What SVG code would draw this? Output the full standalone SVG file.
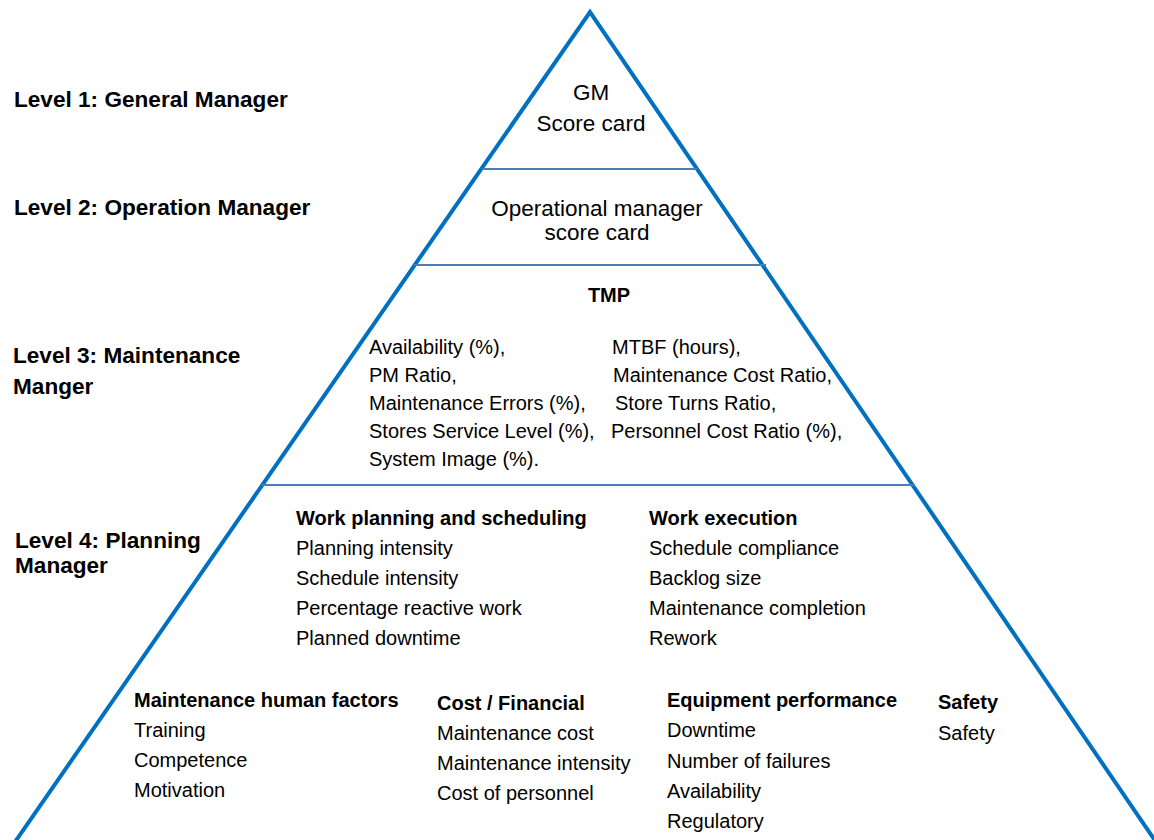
<svg xmlns="http://www.w3.org/2000/svg" width="1154" height="840" viewBox="0 0 1154 840">
<style>
text{font-family:"Liberation Sans",Arial,sans-serif;fill:#000}
.lvl{font-size:22.6px;font-weight:bold}
.t{font-size:20px}
.b{font-size:20px;font-weight:bold}
.big{font-size:22.5px;text-anchor:middle}
.tri{fill:none;stroke:#0070c0;stroke-width:4;stroke-linejoin:miter}
.sep{stroke:#4a7ebb;stroke-width:2}
</style>
<rect width="1154" height="840" fill="#fff"/>
<g id="connectors">
<polyline class="tri" points="15,842 590,12 1156,842"/>
<line class="sep" x1="482" y1="169" x2="697" y2="169"/>
<line class="sep" x1="414" y1="265" x2="766" y2="265"/>
<line class="sep" x1="262" y1="485" x2="915" y2="485"/>
</g>
<g id="labels">
<text class="lvl" x="14" y="107">Level 1: General Manager</text>
<text class="lvl" x="14" y="215">Level 2: Operation Manager</text>
<text class="lvl" x="13" y="363">Level 3: Maintenance</text>
<text class="lvl" x="13" y="394">Manger</text>
<text class="lvl" x="15" y="548">Level 4: Planning</text>
<text class="lvl" x="15" y="573">Manager</text>
</g>
<g id="level1">
<text class="big" x="591" y="100">GM</text>
<text class="big" x="591" y="131">Score card</text>
</g>
<g id="level2">
<text class="big" x="597" y="216">Operational manager</text>
<text class="big" x="597" y="240">score card</text>
</g>
<g id="level3">
<text class="b" x="609" y="302" text-anchor="middle">TMP</text>
<text class="t" x="369" y="354">Availability (%),</text>
<text class="t" x="369" y="382">PM Ratio,</text>
<text class="t" x="369" y="410">Maintenance Errors (%),</text>
<text class="t" x="369" y="438">Stores Service Level (%),</text>
<text class="t" x="369" y="466">System Image (%).</text>
<text class="t" x="612" y="354">MTBF (hours),</text>
<text class="t" x="613" y="382">Maintenance Cost Ratio,</text>
<text class="t" x="615" y="410">Store Turns Ratio,</text>
<text class="t" x="611" y="438">Personnel Cost Ratio (%),</text>
</g>
<g id="level4-planning">
<text class="b" x="296" y="525">Work planning and scheduling</text>
<text class="t" x="296" y="555">Planning intensity</text>
<text class="t" x="296" y="585">Schedule intensity</text>
<text class="t" x="296" y="615">Percentage reactive work</text>
<text class="t" x="296" y="645">Planned downtime</text>
</g>
<g id="level4-execution">
<text class="b" x="649" y="525">Work execution</text>
<text class="t" x="649" y="555">Schedule compliance</text>
<text class="t" x="649" y="585">Backlog size</text>
<text class="t" x="649" y="615">Maintenance completion</text>
<text class="t" x="649" y="645">Rework</text>
</g>
<g id="human-factors">
<text class="b" x="134" y="707">Maintenance human factors</text>
<text class="t" x="134" y="737">Training</text>
<text class="t" x="134" y="767">Competence</text>
<text class="t" x="134" y="797">Motivation</text>
</g>
<g id="cost">
<text class="b" x="437" y="710">Cost / Financial</text>
<text class="t" x="437" y="740">Maintenance cost</text>
<text class="t" x="437" y="770">Maintenance intensity</text>
<text class="t" x="437" y="800">Cost of personnel</text>
</g>
<g id="equipment">
<text class="b" x="667" y="707">Equipment performance</text>
<text class="t" x="667" y="737">Downtime</text>
<text class="t" x="667" y="768">Number of failures</text>
<text class="t" x="667" y="798">Availability</text>
<text class="t" x="667" y="828">Regulatory</text>
</g>
<g id="safety">
<text class="b" x="938" y="709">Safety</text>
<text class="t" x="938" y="740">Safety</text>
</g>
</svg>
